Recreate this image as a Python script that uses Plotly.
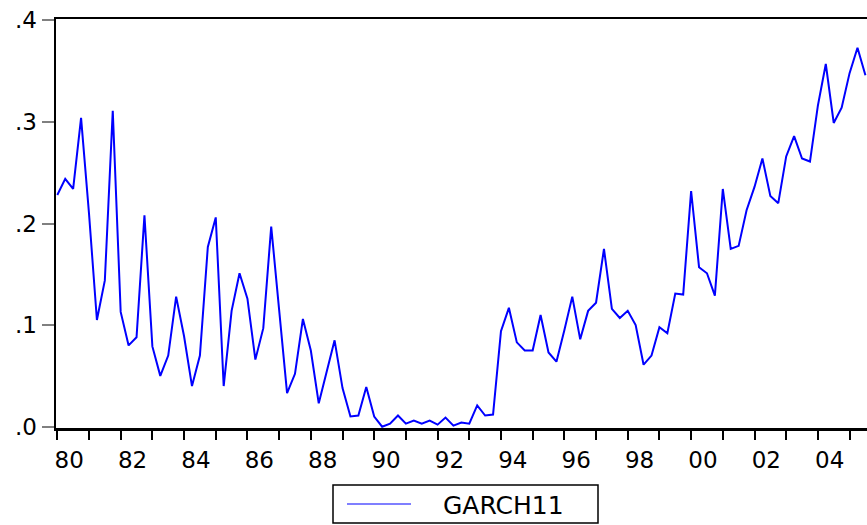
import plotly.graph_objects as go

# ---- data (quarterly, starting 1980Q1) ----
series_name = "GARCH11"
start_year = 1980
garch11 = [
    0.228, 0.244, 0.234, 0.304,   # 1980
    0.210, 0.105, 0.144, 0.311,   # 1981
    0.113, 0.080, 0.088, 0.208,   # 1982
    0.079, 0.050, 0.070, 0.128,   # 1983
    0.089, 0.040, 0.070, 0.177,   # 1984
    0.206, 0.040, 0.114, 0.151,   # 1985
    0.126, 0.066, 0.097, 0.197,   # 1986
    0.115, 0.033, 0.052, 0.106,   # 1987
    0.075, 0.023, 0.054, 0.085,   # 1988
    0.038, 0.010, 0.011, 0.039,   # 1989
    0.010, 0.000, 0.003, 0.011,   # 1990
    0.003, 0.006, 0.003, 0.006,   # 1991
    0.002, 0.009, 0.001, 0.004,   # 1992
    0.003, 0.021, 0.011, 0.012,   # 1993
    0.094, 0.117, 0.083, 0.075,   # 1994
    0.075, 0.110, 0.073, 0.064,   # 1995
    0.095, 0.128, 0.086, 0.114,   # 1996
    0.122, 0.175, 0.116, 0.107,   # 1997
    0.114, 0.100, 0.061, 0.070,   # 1998
    0.098, 0.092, 0.131, 0.130,   # 1999
    0.232, 0.157, 0.151, 0.129,   # 2000
    0.234, 0.175, 0.178, 0.213,   # 2001
    0.236, 0.264, 0.227, 0.220,   # 2002
    0.266, 0.286, 0.264, 0.261,   # 2003
    0.316, 0.357, 0.299, 0.314,   # 2004
    0.348, 0.373, 0.346,          # 2005
]
x_label_years = list(range(1980, 2006, 2))
x_tick_labels = ["80", "82", "84", "86", "88", "90", "92", "94", "96", "98", "00", "02", "04"]
y_tick_vals = [0.0, 0.1, 0.2, 0.3, 0.4]
y_tick_labels = [".0", ".1", ".2", ".3", ".4"]

time = [start_year + i / 4 for i in range(len(garch11))]

W, H = 867, 525
L, R, T, B = 56, 0, 19, 97
FONT = "DejaVu Sans"

fig = go.Figure()
fig.add_trace(go.Scatter(
    x=time, y=garch11, mode="lines", name=series_name,
    line=dict(color="#0000FF", width=2), showlegend=False,
))

fig.update_layout(
    width=W, height=H,
    margin=dict(l=L, r=R, t=T, b=B, autoexpand=False),
    paper_bgcolor="white", plot_bgcolor="white",
    font=dict(family=FONT, size=23, color="black"),
    xaxis=dict(
        range=[1979.959, 2005.55],
        showgrid=False, zeroline=False, automargin=False,
        showline=True, linecolor="black", linewidth=2.5, mirror=True,
        tickmode="array",
        tickvals=[y + 0.375 for y in x_label_years],
        ticktext=x_tick_labels,
        ticks="", ticklabelstandoff=10,
        minor=dict(ticks="outside", tick0=1980, dtick=1, ticklen=9,
                   tickwidth=2, tickcolor="black", showgrid=False),
        tickfont=dict(size=23, family=FONT),
    ),
    yaxis=dict(
        range=[-0.0013, 0.4013],
        showgrid=False, zeroline=False, automargin=False,
        showline=True, linecolor="black", linewidth=2.5, mirror=False,
        tickmode="array", tickvals=y_tick_vals, ticktext=y_tick_labels,
        ticks="outside", ticklen=12, tickwidth=2, tickcolor="#808080",
        tickfont=dict(size=23, family=FONT),
    ),
)

# ---- legend box (EViews style), positioned in pixels ----
pw, ph = W - L - R, H - T - B
def px_x(p):
    return (p - L) / pw
def px_y(p):
    return (H - B - p) / ph

fig.add_shape(type="rect", xref="paper", yref="paper",
              x0=px_x(333), x1=px_x(598), y0=px_y(485), y1=px_y(523),
              line=dict(color="black", width=1.5), fillcolor="white")
fig.add_shape(type="line", xref="paper", yref="paper",
              x0=px_x(347), x1=px_x(411), y0=px_y(504), y1=px_y(504),
              line=dict(color="#0000FF", width=1.2))
fig.add_annotation(xref="paper", yref="paper", x=px_x(503), y=px_y(505),
                   text=series_name, showarrow=False, xanchor="center", yanchor="middle",
                   font=dict(family=FONT, size=25, color="black"))

fig.write_html("out.html",
               config={"displayModeBar": False, "staticPlot": True},
               post_script="document.body.style.margin='0';document.body.style.overflow='hidden';")
